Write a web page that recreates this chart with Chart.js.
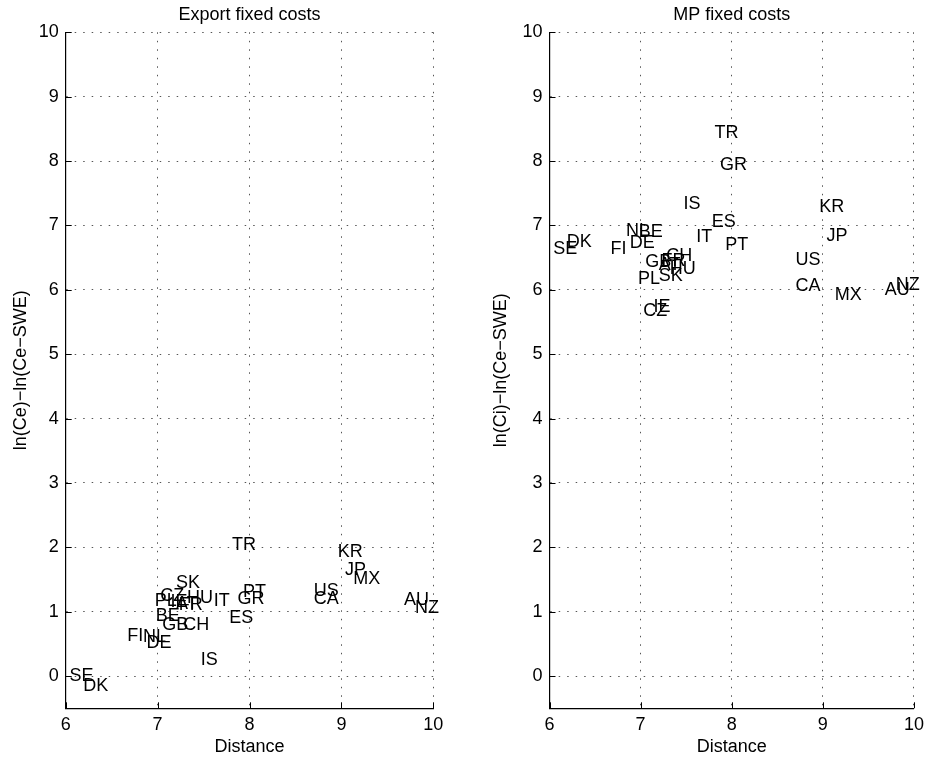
<!DOCTYPE html>
<html>
<head>
<meta charset="utf-8">
<title>Fixed costs and distance</title>
<script src="https://cdn.jsdelivr.net/npm/chart.js@4.4.0/dist/chart.umd.min.js"></script>
<style>
  body { margin: 0; background: #fff; }
  #wrap { position: relative; width: 930px; height: 762px; }
  #wrap canvas { position: absolute; top: 0; }
</style>
</head>
<body>
<div id="wrap">
  <canvas id="exportChart" width="465" height="762" style="left:0"></canvas>
  <canvas id="mpChart" width="465" height="762" style="left:465px"></canvas>
</div>
<script>
// country codes, log distance and the two cost measures
var countries  = ['SE', 'DK', 'FI', 'NL', 'BE', 'DE', 'GB', 'CH', 'PL', 'IE', 'AT', 'FR', 'CZ', 'HU',
                  'SK', 'IT', 'IS', 'ES', 'GR', 'PT', 'TR', 'US', 'CA', 'KR', 'JP', 'MX', 'AU', 'NZ'];
var distance   = [6.04, 6.19, 6.67, 6.84, 6.98, 6.88, 7.05, 7.28, 6.97, 7.14, 7.20, 7.23, 7.03, 7.32,
                  7.20, 7.61, 7.47, 7.78, 7.87, 7.93, 7.81, 8.70, 8.70, 8.96, 9.04, 9.13, 9.68, 9.80];
var exportCost = [0.00, -0.16, 0.63, 0.61, 0.93, 0.51, 0.79, 0.80, 1.17, 1.15, 1.12, 1.10, 1.25, 1.21,
                  1.44, 1.16, 0.25, 0.90, 1.19, 1.30, 2.04, 1.32, 1.19, 1.92, 1.65, 1.51, 1.18, 1.05];
var mpCost     = [6.63, 6.75, 6.63, 6.92, 6.90, 6.73, 6.43, 6.53, 6.17, 5.74, 6.38, 6.45, 5.67, 6.33,
                  6.21, 6.82, 7.33, 7.05, 7.94, 6.70, 8.43, 6.47, 6.06, 7.28, 6.84, 5.92, 6.00, 6.08];

var xTicks = [6, 7, 8, 9, 10];
var yTicks = [0, 1, 2, 3, 4, 5, 6, 7, 8, 9, 10];

var FONT = "'Liberation Sans', Arial, Helvetica, sans-serif";
Chart.defaults.font.family = FONT;
Chart.defaults.font.size = 18;
Chart.defaults.color = '#000';

// write each country code with its left edge at the point, centred vertically
var codeLabels = {
  id: 'codeLabels',
  afterDatasetsDraw: function (chart) {
    var ctx = chart.ctx, xs = chart.scales.x, ys = chart.scales.y;
    ctx.save();
    ctx.font = '18px ' + FONT;
    ctx.fillStyle = '#000';
    ctx.textAlign = 'left';
    ctx.textBaseline = 'middle';
    chart.data.datasets[0].data.forEach(function (p) {
      ctx.fillText(p.code, xs.getPixelForValue(p.x), ys.getPixelForValue(p.y));
    });
    ctx.restore();
  }
};

// small tick marks pointing into the plot from the left and bottom axes
var innerTicks = {
  id: 'innerTicks',
  afterDraw: function (chart) {
    var ctx = chart.ctx, a = chart.chartArea, xs = chart.scales.x, ys = chart.scales.y;
    ctx.save();
    ctx.strokeStyle = '#000';
    ctx.lineWidth = 1;
    ctx.beginPath();
    xs.ticks.forEach(function (t) {
      var px = Math.round(xs.getPixelForValue(t.value)) + 0.5;
      ctx.moveTo(px, a.bottom);
      ctx.lineTo(px, a.bottom - 6);
    });
    ys.ticks.forEach(function (t) {
      var py = Math.round(ys.getPixelForValue(t.value)) + 0.5;
      ctx.moveTo(a.left, py);
      ctx.lineTo(a.left + 6, py);
    });
    ctx.stroke();
    ctx.restore();
  }
};

function makeChart(id, title, yTitle, costs, axisWidth, rightPad, yTitlePad) {
  var points = countries.map(function (c, i) {
    return { x: distance[i], y: costs[i], code: c };
  });
  var gridStyle = { color: '#555', lineWidth: 1, drawTicks: false };
  var borderStyle = { display: true, color: '#000', width: 1.2, dash: [1.5, 7] };

  return new Chart(document.getElementById(id), {
    type: 'scatter',
    data: { datasets: [{ data: points, pointRadius: 0, pointHoverRadius: 0 }] },
    options: {
      responsive: false,
      animation: false,
      devicePixelRatio: 1,
      layout: { padding: { top: 0, right: rightPad, bottom: 0, left: 0 } },
      plugins: {
        legend: { display: false },
        tooltip: { enabled: false },
        title: {
          display: true,
          text: title,
          fullSize: false,
          color: '#000',
          font: { size: 18, weight: 'normal' },
          padding: { top: 4, bottom: 6.7 }
        }
      },
      scales: {
        x: {
          type: 'linear',
          min: 6,
          max: 10,
          afterBuildTicks: function (s) { s.ticks = xTicks.map(function (v) { return { value: v }; }); },
          afterFit: function (s) { s.height = 53.7; },
          grid: gridStyle,
          border: borderStyle,
          ticks: { padding: 6, maxRotation: 0 },
          title: { display: true, text: 'Distance', font: { size: 18 }, padding: { top: 0, bottom: 4.2 } }
        },
        y: {
          type: 'linear',
          min: -0.5,
          max: 10,
          afterBuildTicks: function (s) { s.ticks = yTicks.map(function (v) { return { value: v }; }); },
          afterFit: function (s) { s.width = axisWidth; },
          grid: gridStyle,
          border: borderStyle,
          ticks: { padding: 7 },
          title: { display: true, text: yTitle, font: { size: 18 }, padding: { top: yTitlePad, bottom: 0 } }
        }
      }
    },
    plugins: [codeLabels, innerTicks]
  });
}

makeChart('exportChart', 'Export fixed costs', 'ln(Ce)\u2212ln(Ce\u2212SWE)', exportCost, 65.7, 31.7, 10.7);
makeChart('mpChart', 'MP fixed costs', 'ln(Ci)\u2212ln(Ce\u2212SWE)', mpCost, 84.5, 13.5, 25.7);
</script>
</body>
</html>
